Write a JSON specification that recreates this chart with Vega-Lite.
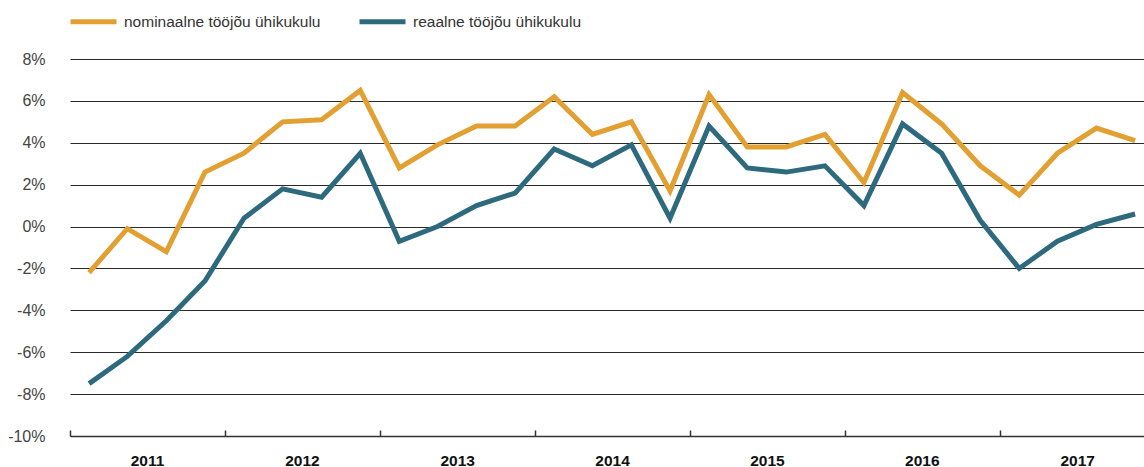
{
  "$schema": "https://vega.github.io/schema/vega-lite/v6.json",
  "width": 1074,
  "height": 377,
  "autosize": {"type": "none"},
  "padding": {"left": 70, "top": 59, "right": 0, "bottom": 31},
  "background": "white",
  "config": {"view": {"stroke": null}, "font": "Liberation Sans"},
  "data": {"values": [
    {"kuupäev": "2011-02-15", "seeria": "nominaalne tööjõu ühikukulu", "väärtus": -2.2},
    {"kuupäev": "2011-05-16", "seeria": "nominaalne tööjõu ühikukulu", "väärtus": -0.1},
    {"kuupäev": "2011-08-16", "seeria": "nominaalne tööjõu ühikukulu", "väärtus": -1.2},
    {"kuupäev": "2011-11-15", "seeria": "nominaalne tööjõu ühikukulu", "väärtus": 2.6},
    {"kuupäev": "2012-02-15", "seeria": "nominaalne tööjõu ühikukulu", "väärtus": 3.5},
    {"kuupäev": "2012-05-16", "seeria": "nominaalne tööjõu ühikukulu", "väärtus": 5.0},
    {"kuupäev": "2012-08-16", "seeria": "nominaalne tööjõu ühikukulu", "väärtus": 5.1},
    {"kuupäev": "2012-11-15", "seeria": "nominaalne tööjõu ühikukulu", "väärtus": 6.5},
    {"kuupäev": "2013-02-15", "seeria": "nominaalne tööjõu ühikukulu", "väärtus": 2.8},
    {"kuupäev": "2013-05-16", "seeria": "nominaalne tööjõu ühikukulu", "väärtus": 3.9},
    {"kuupäev": "2013-08-16", "seeria": "nominaalne tööjõu ühikukulu", "väärtus": 4.8},
    {"kuupäev": "2013-11-15", "seeria": "nominaalne tööjõu ühikukulu", "väärtus": 4.8},
    {"kuupäev": "2014-02-15", "seeria": "nominaalne tööjõu ühikukulu", "väärtus": 6.2},
    {"kuupäev": "2014-05-16", "seeria": "nominaalne tööjõu ühikukulu", "väärtus": 4.4},
    {"kuupäev": "2014-08-16", "seeria": "nominaalne tööjõu ühikukulu", "väärtus": 5.0},
    {"kuupäev": "2014-11-15", "seeria": "nominaalne tööjõu ühikukulu", "väärtus": 1.7},
    {"kuupäev": "2015-02-15", "seeria": "nominaalne tööjõu ühikukulu", "väärtus": 6.3},
    {"kuupäev": "2015-05-16", "seeria": "nominaalne tööjõu ühikukulu", "väärtus": 3.8},
    {"kuupäev": "2015-08-16", "seeria": "nominaalne tööjõu ühikukulu", "väärtus": 3.8},
    {"kuupäev": "2015-11-15", "seeria": "nominaalne tööjõu ühikukulu", "väärtus": 4.4},
    {"kuupäev": "2016-02-15", "seeria": "nominaalne tööjõu ühikukulu", "väärtus": 2.1},
    {"kuupäev": "2016-05-16", "seeria": "nominaalne tööjõu ühikukulu", "väärtus": 6.4},
    {"kuupäev": "2016-08-16", "seeria": "nominaalne tööjõu ühikukulu", "väärtus": 4.9},
    {"kuupäev": "2016-11-15", "seeria": "nominaalne tööjõu ühikukulu", "väärtus": 2.9},
    {"kuupäev": "2017-02-15", "seeria": "nominaalne tööjõu ühikukulu", "väärtus": 1.5},
    {"kuupäev": "2017-05-16", "seeria": "nominaalne tööjõu ühikukulu", "väärtus": 3.5},
    {"kuupäev": "2017-08-16", "seeria": "nominaalne tööjõu ühikukulu", "väärtus": 4.7},
    {"kuupäev": "2017-11-15", "seeria": "nominaalne tööjõu ühikukulu", "väärtus": 4.1},
    {"kuupäev": "2011-02-15", "seeria": "reaalne tööjõu ühikukulu", "väärtus": -7.5},
    {"kuupäev": "2011-05-16", "seeria": "reaalne tööjõu ühikukulu", "väärtus": -6.2},
    {"kuupäev": "2011-08-16", "seeria": "reaalne tööjõu ühikukulu", "väärtus": -4.5},
    {"kuupäev": "2011-11-15", "seeria": "reaalne tööjõu ühikukulu", "väärtus": -2.6},
    {"kuupäev": "2012-02-15", "seeria": "reaalne tööjõu ühikukulu", "väärtus": 0.4},
    {"kuupäev": "2012-05-16", "seeria": "reaalne tööjõu ühikukulu", "väärtus": 1.8},
    {"kuupäev": "2012-08-16", "seeria": "reaalne tööjõu ühikukulu", "väärtus": 1.4},
    {"kuupäev": "2012-11-15", "seeria": "reaalne tööjõu ühikukulu", "väärtus": 3.5},
    {"kuupäev": "2013-02-15", "seeria": "reaalne tööjõu ühikukulu", "väärtus": -0.7},
    {"kuupäev": "2013-05-16", "seeria": "reaalne tööjõu ühikukulu", "väärtus": 0.0},
    {"kuupäev": "2013-08-16", "seeria": "reaalne tööjõu ühikukulu", "väärtus": 1.0},
    {"kuupäev": "2013-11-15", "seeria": "reaalne tööjõu ühikukulu", "väärtus": 1.6},
    {"kuupäev": "2014-02-15", "seeria": "reaalne tööjõu ühikukulu", "väärtus": 3.7},
    {"kuupäev": "2014-05-16", "seeria": "reaalne tööjõu ühikukulu", "väärtus": 2.9},
    {"kuupäev": "2014-08-16", "seeria": "reaalne tööjõu ühikukulu", "väärtus": 3.9},
    {"kuupäev": "2014-11-15", "seeria": "reaalne tööjõu ühikukulu", "väärtus": 0.4},
    {"kuupäev": "2015-02-15", "seeria": "reaalne tööjõu ühikukulu", "väärtus": 4.8},
    {"kuupäev": "2015-05-16", "seeria": "reaalne tööjõu ühikukulu", "väärtus": 2.8},
    {"kuupäev": "2015-08-16", "seeria": "reaalne tööjõu ühikukulu", "väärtus": 2.6},
    {"kuupäev": "2015-11-15", "seeria": "reaalne tööjõu ühikukulu", "väärtus": 2.9},
    {"kuupäev": "2016-02-15", "seeria": "reaalne tööjõu ühikukulu", "väärtus": 1.0},
    {"kuupäev": "2016-05-16", "seeria": "reaalne tööjõu ühikukulu", "väärtus": 4.9},
    {"kuupäev": "2016-08-16", "seeria": "reaalne tööjõu ühikukulu", "väärtus": 3.5},
    {"kuupäev": "2016-11-15", "seeria": "reaalne tööjõu ühikukulu", "väärtus": 0.3},
    {"kuupäev": "2017-02-15", "seeria": "reaalne tööjõu ühikukulu", "väärtus": -2.0},
    {"kuupäev": "2017-05-16", "seeria": "reaalne tööjõu ühikukulu", "väärtus": -0.7},
    {"kuupäev": "2017-08-16", "seeria": "reaalne tööjõu ühikukulu", "väärtus": 0.1},
    {"kuupäev": "2017-11-15", "seeria": "reaalne tööjõu ühikukulu", "väärtus": 0.6}
  ]},
  "mark": {"type": "line", "strokeWidth": 5, "strokeJoin": "miter", "strokeCap": "butt"},
  "encoding": {
    "x": {
      "field": "kuupäev",
      "type": "temporal",
      "scale": {
        "type": "utc",
        "domain": [
          {"year": 2011, "month": 1, "date": 1, "utc": true},
          {"year": 2017, "month": 12, "date": 6, "utc": true}
        ]
      },
      "axis": {
        "title": null,
        "grid": false,
        "tickCount": {"interval": "year", "step": 1},
        "format": "%Y",
        "formatType": "utc",
        "labelOffset": 77,
        "labelFont": "Liberation Sans",
        "labelFontSize": 15.5,
        "labelFontWeight": "bold",
        "labelColor": "#111111",
        "labelPadding": 23,
        "labelBaseline": "top",
        "domainColor": "#333333",
        "domainWidth": 1.5,
        "tickColor": "#333333",
        "tickWidth": 1.5,
        "tickSize": -6,
        "labelFlush": false,
        "labelOverlap": false
      }
    },
    "y": {
      "field": "väärtus",
      "type": "quantitative",
      "scale": {"domain": [-10, 8], "nice": false, "zero": false},
      "axis": {
        "title": null,
        "values": [-10, -8, -6, -4, -2, 0, 2, 4, 6, 8],
        "labelExpr": "datum.value + '%'",
        "labelFont": "Liberation Sans",
        "labelFontSize": 16,
        "labelColor": "#444444",
        "labelPadding": 25,
        "ticks": false,
        "domain": false,
        "grid": true,
        "gridColor": "#2a2a2a",
        "gridWidth": 1
      }
    },
    "color": {
      "field": "seeria",
      "type": "nominal",
      "scale": {
        "domain": ["nominaalne tööjõu ühikukulu", "reaalne tööjõu ühikukulu"],
        "range": ["#E2A033", "#2D6A7E"]
      },
      "legend": {
        "title": null,
        "orient": "none",
        "direction": "horizontal",
        "legendX": -2,
        "legendY": -63,
        "symbolType": "stroke",
        "symbolStrokeWidth": 5,
        "symbolSize": 2116,
        "labelFont": "Liberation Sans",
        "labelFontSize": 15.5,
        "labelColor": "#333333",
        "labelOffset": 5,
        "columnPadding": 28,
        "labelLimit": 400
      }
    }
  }
}
